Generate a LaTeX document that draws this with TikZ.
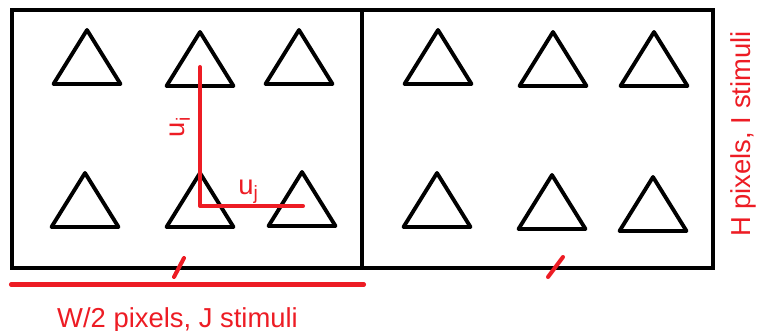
\documentclass[tikz,border=0pt]{standalone}
\usepackage{fontspec}
\setmainfont{Liberation Sans}
\usepackage{xcolor}
\definecolor{paintred}{RGB}{237,28,36}

\begin{document}
\begin{tikzpicture}[
  x=0.02cm, y=-0.02cm,
  font=\fontsize{15.6}{18}\selectfont,
  boxline/.style={line width=2.5pt},
  stim/.style={line width=2.2pt, line join=round},
  redline/.style={paintred, line width=2.3pt, line cap=round, line join=round},
  redlabel/.style={text=paintred, inner sep=0pt},
  ]
  \useasboundingbox (0,0) rectangle (757,331);

  % Two halves of the screen
  \draw[boxline] (12,10) rectangle (713,268);
  \draw[boxline] (362,10) -- (362,268);

  % Stimuli (apex x, apex y)
  \foreach \ax/\ay in {87/30, 200/32, 299/30, 438/30, 553/32, 654/32,
                       85/173, 200/173, 302/172, 437/173, 552/175, 653/177}
    \draw[stim] (\ax,\ay) -- ++(33.5,54) -- ++(-67,0) -- cycle;

  % Unit vectors u_i and u_j
  \coordinate (uitop) at (200,67);
  \coordinate (ucorner) at (200,206);
  \coordinate (ujend) at (303,206);
  \draw[redline] (uitop) -- (ucorner) -- (ujend);
  \node[redlabel, rotate=90] (ui) at (180,127) {u\textsubscript{i}};
  \node[redlabel, anchor=base west] (uj) at (238,194) {u\textsubscript{j}};

  % Width of one half
  \coordinate (wleft) at (11,284.5);
  \coordinate (wright) at (364,284.5);
  \draw[redline] (wleft) -- (wright);
  \node[redlabel, anchor=base] (wlabel) at (177.5,327) {W/2 pixels, J stimuli};

  % Tick marks on the bottom edge
  \draw[redline] (174,277) -- (184,258);
  \draw[redline] (548,277) -- (563,257);

  % Height
  \node[redlabel, rotate=90] (hlabel) at (743,134) {H pixels, I stimuli};
\end{tikzpicture}
\end{document}
